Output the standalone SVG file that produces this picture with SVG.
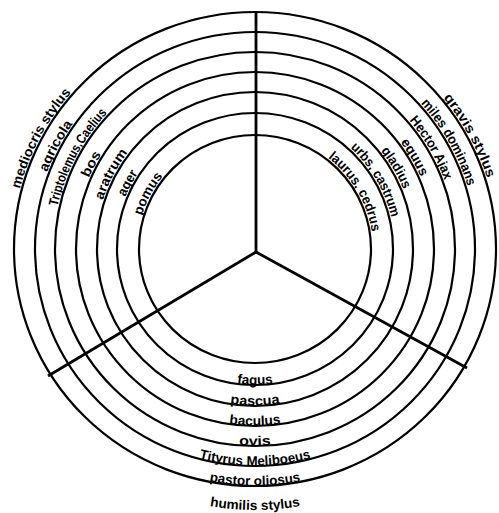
<svg xmlns="http://www.w3.org/2000/svg" width="499" height="513" viewBox="0 0 499 513">
<style>
.ring{fill:none;stroke:#000;stroke-width:2.2}
.spoke{fill:none;stroke:#000;stroke-width:2.8;stroke-linecap:butt}
.lbl{font-family:"Liberation Sans",Arial,sans-serif;font-size:13.5px;font-weight:bold;fill:#000}
</style>
<defs>
<path id="L1" d="M30.5 340.5 A243 239 0 0 1 202.4 15.7"/>
<path id="L2" d="M49.9 332.8 A222 219 0 0 1 207.0 35.2"/>
<path id="L3" d="M68.4 325.2 A202 199 0 0 1 211.3 54.7"/>
<path id="L4" d="M87.8 317.5 A181 179 0 0 1 215.8 74.2"/>
<path id="L5" d="M107.2 309.8 A160 159 0 0 1 220.4 93.8"/>
<path id="L6" d="M125.7 301.8 A140 138 0 0 1 224.7 114.3"/>
<path id="L7" d="M146.0 293.4 A118 116 0 0 1 229.5 135.7"/>
<path id="R1" d="M297.2 13.6 A243 239 0 0 1 483.3 330.7"/>
<path id="R2" d="M293.6 33.3 A222 219 0 0 1 463.6 323.9"/>
<path id="R3" d="M290.1 53.0 A202 199 0 0 1 444.8 317.1"/>
<path id="R4" d="M286.4 72.7 A181 179 0 0 1 425.1 310.2"/>
<path id="R5" d="M282.8 92.4 A160 159 0 0 1 405.4 303.4"/>
<path id="R6" d="M279.3 113.1 A140 138 0 0 1 386.6 296.2"/>
<path id="R7" d="M275.5 134.8 A118 116 0 0 1 365.9 288.7"/>
<path id="B6" d="M137.2 317 A136 135 0 0 0 372.8 317"/>
<path id="B5" d="M119.9 327.5 A156 156 0 0 0 390.1 327.5"/>
<path id="B4" d="M101.7 337.5 A177 176 0 0 0 408.3 337.5"/>
<path id="B3" d="M83.5 347.5 A198 196 0 0 0 426.5 347.5"/>
<path id="B2" d="M66.2 357.5 A218 216 0 0 0 443.8 357.5"/>
<path id="B1" d="M48 367.5 A239 236 0 0 0 462 367.5"/>
<path id="B0" d="M28.1 380 A262 260 0 0 0 481.9 380"/>
</defs>
<g id="rings">
<ellipse id="ring1" class="ring" cx="255" cy="249" rx="241" ry="237"/>
<ellipse id="ring2" class="ring" cx="255" cy="249" rx="220" ry="217"/>
<ellipse id="ring3" class="ring" cx="255" cy="249" rx="200" ry="197"/>
<ellipse id="ring4" class="ring" cx="255" cy="249" rx="179" ry="177"/>
<ellipse id="ring5" class="ring" cx="255" cy="249" rx="158" ry="157"/>
<ellipse id="ring6" class="ring" cx="255" cy="249" rx="138" ry="136"/>
<ellipse id="ring7" class="ring" cx="255" cy="249" rx="116" ry="114"/>
</g>
<g id="connectors">
<path class="spoke" d="M256 252 V12"/>
<path class="spoke" d="M256 252 L48 376"/>
<path class="spoke" d="M256 252 L467 368"/>
</g>
<g id="sector-left" class="lbl">
<text><textPath href="#L1" startOffset="50%" text-anchor="middle" textLength="110" lengthAdjust="spacingAndGlyphs">mediocris stylus</textPath></text>
<text><textPath href="#L2" startOffset="50%" text-anchor="middle" textLength="55" lengthAdjust="spacingAndGlyphs">agricola</textPath></text>
<text><textPath href="#L3" startOffset="50%" text-anchor="middle" textLength="107" lengthAdjust="spacingAndGlyphs">Triptolemus,Caelius</textPath></text>
<text><textPath href="#L4" startOffset="50%" text-anchor="middle" textLength="27" lengthAdjust="spacingAndGlyphs">bos</textPath></text>
<text><textPath href="#L5" startOffset="50%" text-anchor="middle" textLength="54" lengthAdjust="spacingAndGlyphs">aratrum</textPath></text>
<text><textPath href="#L6" startOffset="50%" text-anchor="middle" textLength="27" lengthAdjust="spacingAndGlyphs">ager</textPath></text>
<text><textPath href="#L7" startOffset="50%" text-anchor="middle" textLength="45" lengthAdjust="spacingAndGlyphs">pomus</textPath></text>
</g>
<g id="sector-right" class="lbl">
<text><textPath href="#R1" startOffset="52%" text-anchor="middle" textLength="92" lengthAdjust="spacingAndGlyphs">gravis stylus</textPath></text>
<text><textPath href="#R2" startOffset="51%" text-anchor="middle" textLength="96" lengthAdjust="spacingAndGlyphs">miles dominans</textPath></text>
<text><textPath href="#R3" startOffset="50%" text-anchor="middle" textLength="70" lengthAdjust="spacingAndGlyphs">Hector Ajax</textPath></text>
<text><textPath href="#R4" startOffset="50%" text-anchor="middle" textLength="40" lengthAdjust="spacingAndGlyphs">equus</textPath></text>
<text><textPath href="#R5" startOffset="50%" text-anchor="middle" textLength="45" lengthAdjust="spacingAndGlyphs">gladius</textPath></text>
<text><textPath href="#R6" startOffset="50%" text-anchor="middle" textLength="82" lengthAdjust="spacingAndGlyphs">urbs, castrum</textPath></text>
<text><textPath href="#R7" startOffset="50%" text-anchor="middle" textLength="88" lengthAdjust="spacingAndGlyphs">laurus, cedrus</textPath></text>
</g>
<g id="sector-bottom" class="lbl">
<text><textPath href="#B6" startOffset="50%" text-anchor="middle" textLength="36" lengthAdjust="spacingAndGlyphs">fagus</textPath></text>
<text><textPath href="#B5" startOffset="50%" text-anchor="middle" textLength="50" lengthAdjust="spacingAndGlyphs">pascua</textPath></text>
<text><textPath href="#B4" startOffset="50%" text-anchor="middle" textLength="52" lengthAdjust="spacingAndGlyphs">baculus</textPath></text>
<text><textPath href="#B3" startOffset="50%" text-anchor="middle" textLength="32" lengthAdjust="spacingAndGlyphs">ovis</textPath></text>
<text><textPath href="#B2" startOffset="50%" text-anchor="middle" textLength="113" lengthAdjust="spacingAndGlyphs">Tityrus Meliboeus</textPath></text>
<text><textPath href="#B1" startOffset="50%" text-anchor="middle" textLength="92" lengthAdjust="spacingAndGlyphs">pastor oliosus</textPath></text>
<text><textPath href="#B0" startOffset="50%" text-anchor="middle" textLength="91" lengthAdjust="spacingAndGlyphs">humilis stylus</textPath></text>
</g>
</svg>
